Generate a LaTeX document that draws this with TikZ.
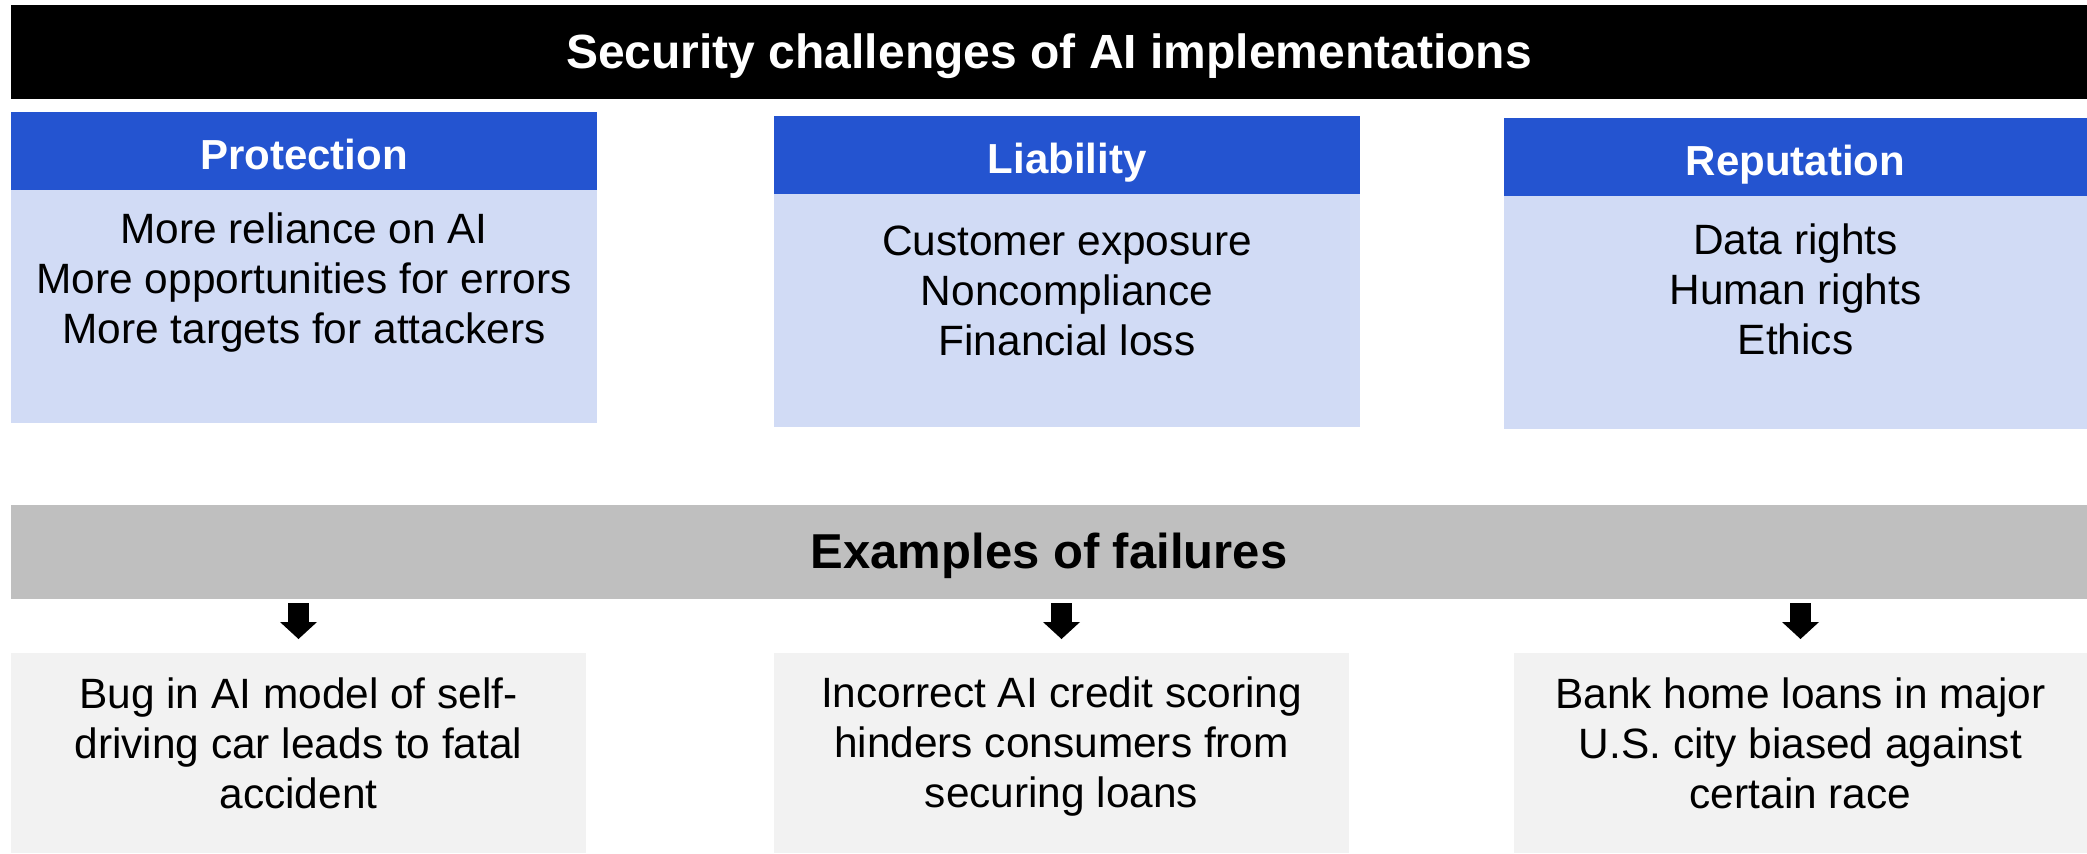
\documentclass[tikz,border=0pt]{standalone}
\usepackage{fontspec}
\setmainfont{Liberation Sans}
\usetikzlibrary{calc,positioning,arrows.meta}
\definecolor{hdrblue}{RGB}{36,84,208}
\definecolor{bodyblue}{RGB}{209,219,245}
\definecolor{bargray}{RGB}{191,191,191}
\definecolor{boxgray}{RGB}{242,242,242}

\begin{document}
\begin{tikzpicture}[x=1pt,y=-1pt,
	box/.style={anchor=north west, inner sep=0pt, outer sep=0pt},
	bar/.style={box, minimum width=1038pt, minimum height=47pt, text height=19pt, text depth=3pt},
	hdr/.style={box, fill=hdrblue, text=white, minimum height=39pt, text height=21pt, text depth=2.5pt,
		font=\fontsize{21}{25}\selectfont\bfseries},
	body/.style={box, fill=bodyblue, minimum height=116.5pt},
	fail/.style={box, fill=boxgray, minimum height=100pt},
	bodytext/.style={align=center, inner sep=0pt, font=\fontsize{21.2}{25}\selectfont},
	failtext/.style={align=center, inner sep=0pt, font=\fontsize{21.2}{25}\selectfont},
	downarrow/.style={line width=10.5pt, -{Triangle[width=18.5pt,length=8.5pt,line width=0pt]},
		shorten <=2pt, shorten >=7pt}]
			\useasboundingbox (0,0) rectangle (1043.5,426.5);
			% title
			\node[bar, fill=black, text=white, font=\fontsize{24}{28}\selectfont\bfseries] (title) at (5.5,2.5)
				{Security challenges of AI implementations};
			% three challenges
			\node[hdr, minimum width=293pt] (prot) at (5.5,56) {Protection};
			\node[body, minimum width=293pt] (protbody) at (prot.south west) {};
			\node[bodytext] (prottxt) at ($(protbody.north)+(0,46.5)$)
				{More reliance on AI\\More opportunities for errors\\More targets for attackers};
			\node[hdr, minimum width=293pt] (liab) at (387,58) {Liability};
			\node[body, minimum width=293pt] (liabbody) at (liab.south west) {};
			\node[bodytext] (liabtxt) at ($(liabbody.north)+(0,48.5)$)
				{Customer exposure\\Noncompliance\\Financial loss};
			\node[hdr, minimum width=291.5pt] (repu) at (752,59) {Reputation};
			\node[body, minimum width=291.5pt] (repubody) at (repu.south west) {};
			\node[bodytext] (reputxt) at ($(repubody.north)+(0,46.5)$)
				{Data rights\\Human rights\\Ethics};
			% examples
			\node[bar, fill=bargray, font=\fontsize{24.5}{28}\selectfont\bfseries] (examples) at (5.5,252.5)
				{Examples of failures};
			\node[fail, minimum width=287.5pt] (bug) at (5.5,326.5) {};
			\node[failtext] (bugtxt) at ($(bug.north)+(0,45)$)
				{Bug in AI model of self-\\driving car leads to fatal\\accident};
			\node[fail, minimum width=287.5pt] (credit) at (387,326.5) {};
			\node[failtext] (credittxt) at ($(credit.north)+(0,47)$)
				{Incorrect AI credit scoring\\hinders consumers from\\securing loans};
			\node[fail, minimum width=286.5pt] (loans) at (757,326.5) {};
			\node[failtext] (loanstxt) at ($(loans.north)+(0,45)$)
				{Bank home loans in major\\U.S. city biased against\\certain race};
			\draw[downarrow] (examples.south -| bug.north) -- (bug.north);
			\draw[downarrow] (examples.south -| credit.north) -- (credit.north);
			\draw[downarrow] (examples.south -| loans.north) -- (loans.north);
	\end{tikzpicture}
\end{document}
